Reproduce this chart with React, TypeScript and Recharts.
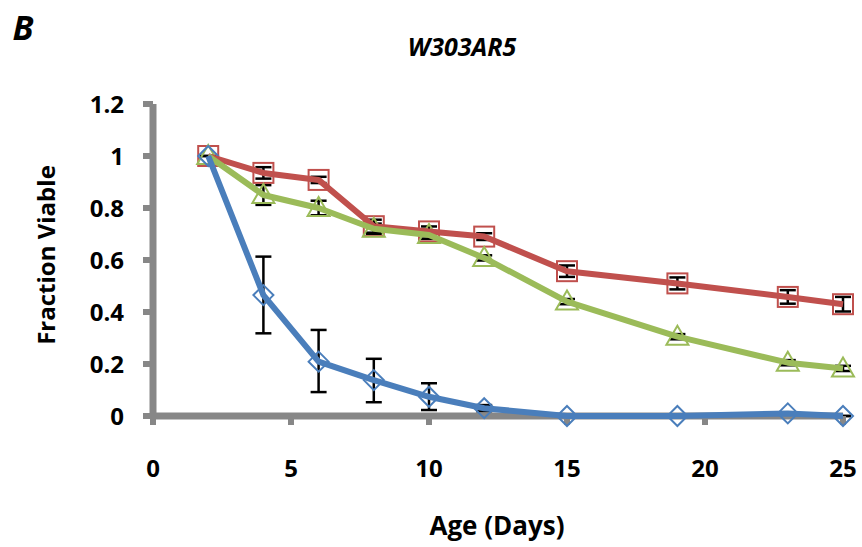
import React from 'react';
import { LineChart, Line, XAxis, YAxis, ErrorBar } from 'recharts';

const ages = [2, 4, 6, 8, 10, 12, 15, 19, 23, 25];

const blueValues = [1, 0.465, 0.209, 0.138, 0.074, 0.03, 0, 0, 0.01, 0];
const blueErrors = [
    [0, 0], [0.147, 0.148], [0.117, 0.122], [0.085, 0.082], [0.051, 0.052],
    [0.012, 0.012], [0, 0], [0, 0], [0, 0], [0, 0],
];

const redValues = [1, 0.935, 0.908, 0.73, 0.71, 0.69, 0.557, 0.51, 0.458, 0.43];
const redErrors = [0, 0.022, 0.012, 0.025, 0.019, 0.013, 0.022, 0.023, 0.026, 0.028];

const greenValues = [1, 0.85, 0.8, 0.72, 0.696, 0.608, 0.44, 0.305, 0.205, 0.183];
const greenErrors = [0, 0.038, 0.028, 0.02, 0.015, 0.01, 0.01, 0.01, 0.01, 0.01];

const xTicks = [0, 5, 10, 15, 20, 25];
const yTicks = [0, 0.2, 0.4, 0.6, 0.8, 1, 1.2];

const BLUE = '#4a7ebb';
const RED = '#c0504d';
const GREEN = '#9bbb59';
const AXIS = '#878787';
const FONT = '"Open Sans", sans-serif';

const data = ages.map((age, i) => ({
    age,
    blue: blueValues[i],
    blueErr: blueErrors[i],
    red: redValues[i],
    redErr: redErrors[i],
    green: greenValues[i],
    greenErr: greenErrors[i],
}));

const SquareDot = (props: any) => {
    const { cx, cy, index } = props;
    if (cx == null || cy == null) return <g key={`sq-${index}`} />;
    return <rect key={`sq-${index}`} x={cx - 10} y={cy - 10} width={20} height={20} fill="none" stroke={RED} strokeWidth={2} />;
};

const TriangleDot = (props: any) => {
    const { cx, cy, index } = props;
    if (cx == null || cy == null) return <g key={`tr-${index}`} />;
    const pts = `${cx},${cy - 11} ${cx + 11},${cy + 8} ${cx - 11},${cy + 8}`;
    return <polygon key={`tr-${index}`} points={pts} fill="none" stroke={GREEN} strokeWidth={2} />;
};

const DiamondDot = (props: any) => {
    const { cx, cy, index } = props;
    if (cx == null || cy == null) return <g key={`di-${index}`} />;
    const pts = `${cx},${cy - 10} ${cx + 10},${cy} ${cx},${cy + 10} ${cx - 10},${cy}`;
    return <polygon key={`di-${index}`} points={pts} fill="none" stroke={BLUE} strokeWidth={2} />;
};

const tickStyle = { fill: '#000', fontSize: 24, fontWeight: 700, fontFamily: FONT };

const textBase: React.CSSProperties = {
    position: 'absolute',
    fontFamily: FONT,
    fontWeight: 700,
    color: '#000',
    lineHeight: 1,
    whiteSpace: 'nowrap',
    transform: 'translate(-50%, -50%)',
};

export default function App() {
    return (
        <div style={{ position: 'absolute', left: 0, top: 0, width: 862, height: 547, background: '#fff' }}>
            <LineChart
                width={862}
                height={547}
                data={data}
                margin={{ top: 104, right: 19, bottom: 0, left: 0 }}
            >
                <XAxis
                    dataKey="age"
                    type="number"
                    domain={[0, 25]}
                    ticks={xTicks}
                    height={131}
                    axisLine={{ stroke: AXIS, strokeWidth: 7 }}
                    tickLine={{ stroke: AXIS, strokeWidth: 6 }}
                    tickSize={9}
                    tickMargin={35}
                    tick={tickStyle}
                />
                <YAxis
                    type="number"
                    domain={[0, 1.2]}
                    ticks={yTicks}
                    width={153}
                    axisLine={{ stroke: AXIS, strokeWidth: 7 }}
                    tickLine={{ stroke: AXIS, strokeWidth: 6 }}
                    tickSize={10}
                    tickMargin={19}
                    tick={tickStyle}
                />
                <Line
                    type="linear"
                    dataKey="red"
                    stroke={RED}
                    strokeWidth={6}
                    strokeLinejoin="round"
                    dot={SquareDot}
                    activeDot={false}
                    isAnimationActive={false}
                    zIndex={700}
                >
                    <ErrorBar dataKey="redErr" direction="y" width={8} stroke="#000" strokeWidth={2.5} />
                </Line>
                <Line
                    type="linear"
                    dataKey="green"
                    stroke={GREEN}
                    strokeWidth={6}
                    strokeLinejoin="round"
                    dot={TriangleDot}
                    activeDot={false}
                    isAnimationActive={false}
                    zIndex={700}
                >
                    <ErrorBar dataKey="greenErr" direction="y" width={8} stroke="#000" strokeWidth={2.5} />
                </Line>
                <Line
                    type="linear"
                    dataKey="blue"
                    stroke={BLUE}
                    strokeWidth={6}
                    strokeLinejoin="round"
                    dot={DiamondDot}
                    activeDot={false}
                    isAnimationActive={false}
                    zIndex={700}
                >
                    <ErrorBar dataKey="blueErr" direction="y" width={8} stroke="#000" strokeWidth={2.5} />
                </Line>
            </LineChart>
            <div style={{ ...textBase, left: 23, top: 27, fontSize: 34, fontStyle: 'italic' }}>B</div>
            <div style={{ ...textBase, left: 462, top: 46, fontSize: 25, fontStyle: 'italic' }}>W303AR5</div>
            <div style={{ ...textBase, left: 497, top: 525, fontSize: 26 }}>Age (Days)</div>
            <div
                style={{
                    ...textBase,
                    left: 46,
                    top: 255,
                    fontSize: 24,
                    transform: 'translate(-50%, -50%) rotate(-90deg)',
                }}
            >
                Fraction Viable
            </div>
        </div>
    );
}
